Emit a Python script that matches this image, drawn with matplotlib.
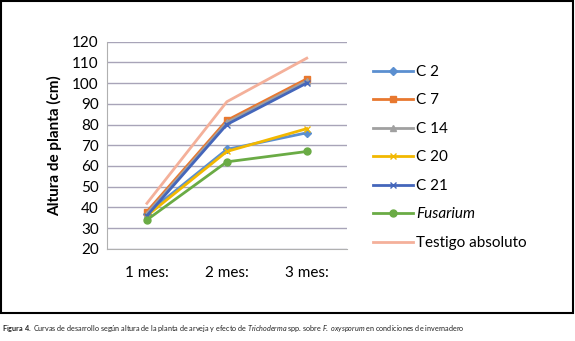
import matplotlib.pyplot as plt
from matplotlib.patches import Rectangle

plt.rcParams['font.family'] = ['Lato', 'DejaVu Sans']
plt.rcParams['mathtext.fontset'] = 'custom'
plt.rcParams['mathtext.rm'] = 'Lato'
plt.rcParams['mathtext.it'] = 'Lato:italic'
plt.rcParams['mathtext.bf'] = 'Lato:bold'

meses = ['1 mes:', '2 mes:', '3 mes:']
c2 = [37, 68, 76]
c7 = [38, 82, 102]
c14 = [37, 81, 101]
c20 = [36, 67, 78]
c21 = [36, 80, 100]
fusarium = [34, 62, 67]
testigo = [42, 91, 112]

fig = plt.figure(figsize=(5.75, 3.41), dpi=100)
ax = fig.add_axes([0.186, 0.27, 0.417, 0.608])

x = range(len(meses))
ax.plot(x, c2, color='#5b8fd0', lw=2, marker='D', ms=4, label='C 2')
ax.plot(x, c7, color='#e8782f', lw=2, marker='s', ms=5, label='C 7')
ax.plot(x, c14, color='#a0a0a0', lw=2, marker='^', ms=5, label='C 14')
ax.plot(x, c20, color='#f2b800', lw=2, marker='x', ms=5, label='C 20')
ax.plot(x, c21, color='#4466bb', lw=2, marker='x', ms=5, label='C 21')
ax.plot(x, fusarium, color='#6aab45', lw=2, marker='o', ms=5, label='Fusarium')
ax.plot(x, testigo, color='#f4b09a', lw=2, label='Testigo absoluto')

ax.set_xlim(-0.5, 2.5)
ax.set_ylim(20, 120)
ax.set_yticks(range(20, 121, 10))
ax.set_xticks(list(x))
ax.set_xticklabels(meses)
ax.yaxis.grid(True, color='#a8a4b8', lw=1)
ax.set_axisbelow(True)
for s in ['top', 'right']:
    ax.spines[s].set_visible(False)
ax.spines['left'].set_color('#b0b0b0')
ax.spines['bottom'].set_color('#b0b0b0')
ax.tick_params(axis='y', length=0, labelsize=11, pad=6)
ax.tick_params(axis='x', length=0, labelsize=11, pad=12)
ax.set_ylabel('Altura de planta (cm)', fontsize=11, fontweight='bold', labelpad=7)

leg = fig.legend(loc='upper left', bbox_to_anchor=(0.625, 0.85), frameon=False,
                 fontsize=11, handlelength=2.6, labelspacing=0.95, handletextpad=0.2)
leg.get_texts()[5].set_style('italic')

fig.patches.append(Rectangle((0.002, 1 - 313 / 341), 0.994, 313 / 341 - 0.003,
                             transform=fig.transFigure, fill=False, ec='black', lw=1.5))

fig.text(0.003, 0.03, r'$\bf{Figura\ 4.}$ Curvas de desarrollo según altura de la planta de arveja y efecto de '
         r'$\it{Trichoderma}$ spp. sobre $\it{F.\ oxysporum}$ en condiciones de invernadero',
         fontsize=5.2, color='#222222')

fig.savefig('out.png')
